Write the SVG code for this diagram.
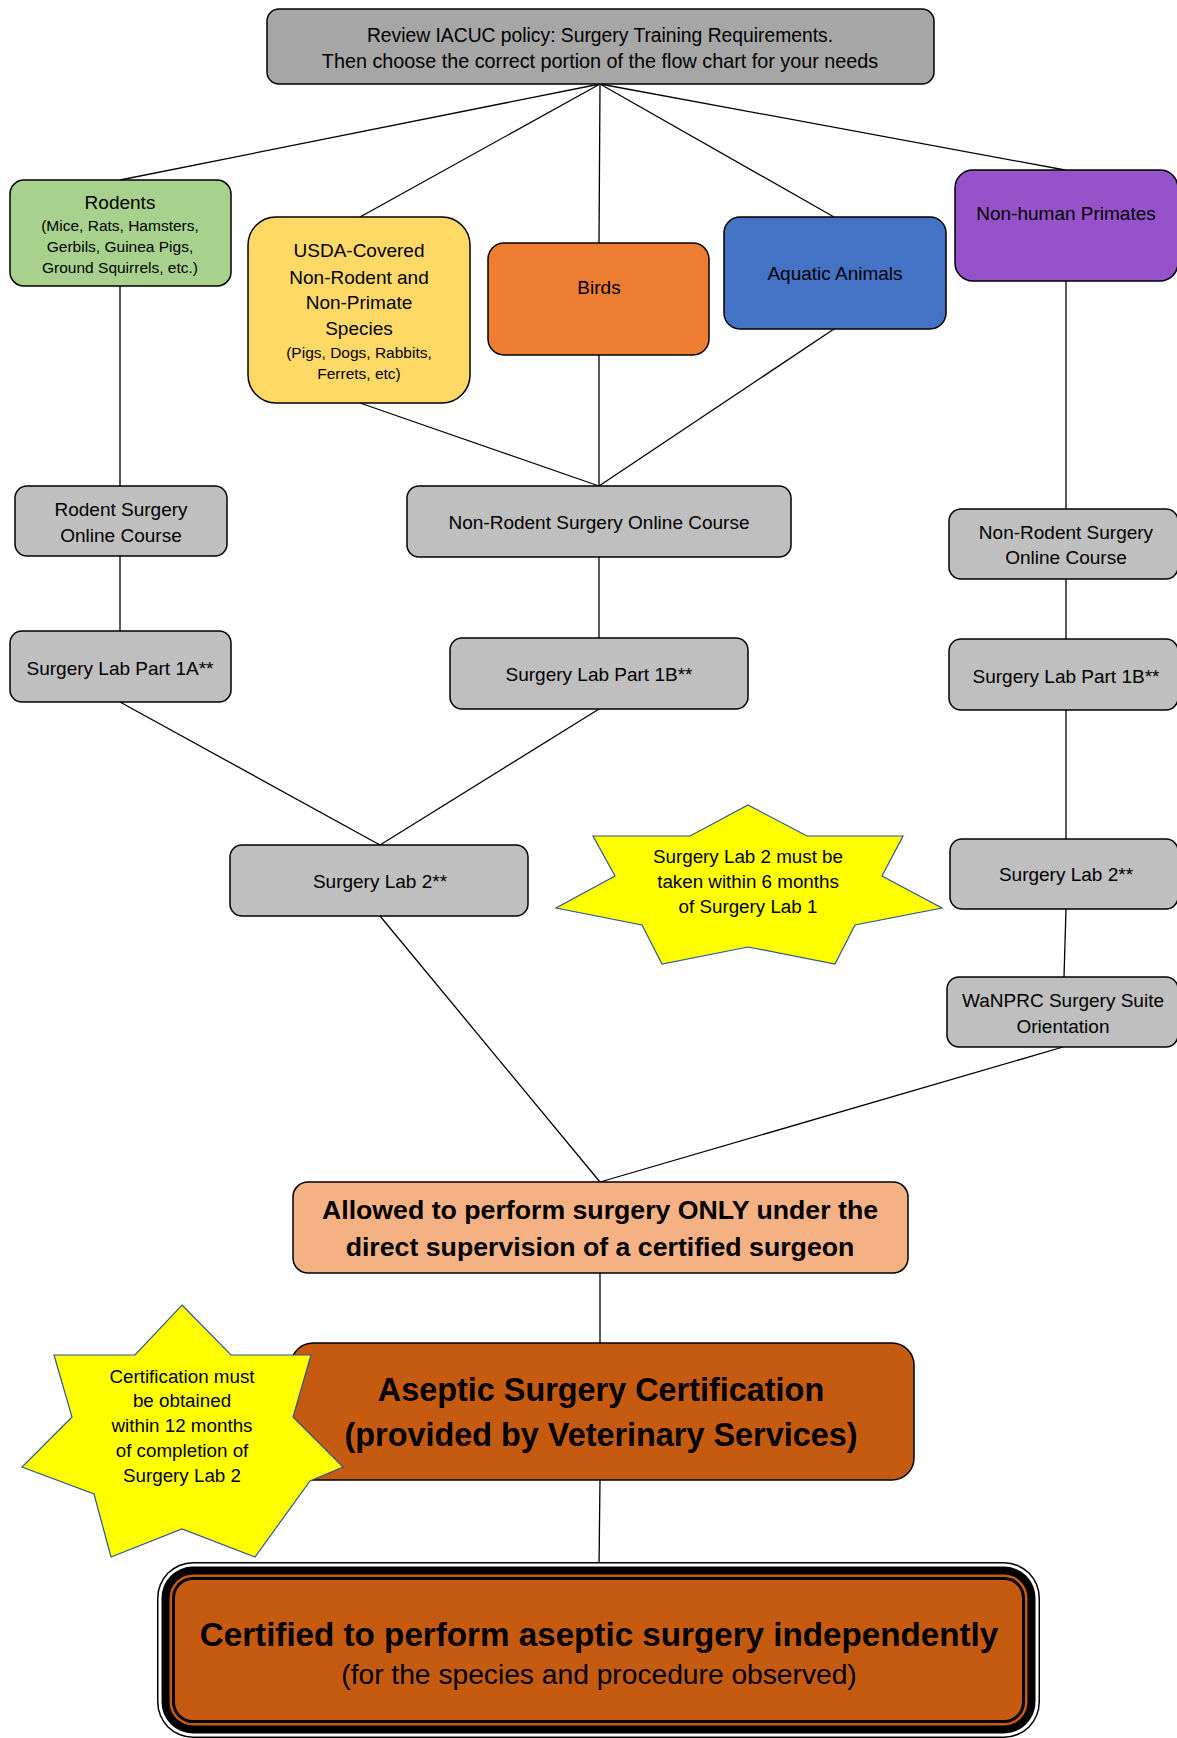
<svg xmlns="http://www.w3.org/2000/svg" width="1177" height="1738" viewBox="0 0 1177 1738">
<style>
.box{stroke:#000;stroke-width:1.5}
.gray{fill:#BFBFBF}
.t{font-family:"Liberation Sans",Arial,sans-serif;fill:#000;text-anchor:middle}
.f19{font-size:19px}
.f15{font-size:15.5px}
.f18{font-size:18.8px}
.b{font-weight:bold}
.star{fill:#FFFF00;stroke:#2F5597;stroke-width:1.2}
#connectors line{stroke:#000;stroke-width:1.3}
</style>
<rect width="1177" height="1738" fill="#fff"/>
<g id="connectors">
<line x1="600" y1="84" x2="120" y2="180"/>
<line x1="600" y1="84" x2="360" y2="217"/>
<line x1="600" y1="84" x2="599" y2="243"/>
<line x1="600" y1="84" x2="834" y2="217"/>
<line x1="600" y1="84" x2="1065" y2="170"/>
<line x1="120" y1="286" x2="120" y2="486"/>
<line x1="360" y1="403" x2="599" y2="486"/>
<line x1="599" y1="355" x2="599" y2="486"/>
<line x1="834" y1="329" x2="599" y2="486"/>
<line x1="1066" y1="281" x2="1066" y2="509"/>
<line x1="120" y1="556" x2="120" y2="631"/>
<line x1="599" y1="557" x2="599" y2="638"/>
<line x1="1066" y1="579" x2="1066" y2="639"/>
<line x1="120" y1="702" x2="380" y2="845"/>
<line x1="599" y1="709" x2="380" y2="845"/>
<line x1="1066" y1="710" x2="1066" y2="839"/>
<line x1="1066" y1="909" x2="1064" y2="977"/>
<line x1="380" y1="916" x2="600" y2="1182"/>
<line x1="1063" y1="1047" x2="600" y2="1182"/>
<line x1="600" y1="1273" x2="600" y2="1343"/>
<line x1="600" y1="1480" x2="599" y2="1568"/>
</g>

<g id="n-top">
<rect class="box" x="267" y="9" width="667" height="75" rx="12" fill="#A6A6A6"/>
<text class="t" x="600" y="42" font-size="19.3px">Review IACUC policy: Surgery Training Requirements.</text>
<text class="t" x="600" y="68" font-size="19.8px">Then choose the correct portion of the flow chart for your needs</text>
</g>

<g id="n-rodents">
<rect class="box" x="10" y="180" width="221" height="106" rx="14" fill="#A9D18E"/>
<text class="t f19" x="120" y="209">Rodents</text>
<text class="t f15" x="120" y="230.5">(Mice, Rats, Hamsters,</text>
<text class="t f15" x="120" y="251.5">Gerbils, Guinea Pigs,</text>
<text class="t f15" x="120" y="272.5">Ground Squirrels, etc.)</text>
</g>

<g id="n-usda">
<rect class="box" x="248" y="217" width="222" height="186" rx="28" fill="#FFD966"/>
<text class="t f19" x="359" y="257">USDA-Covered</text>
<text class="t f19" x="359" y="284">Non-Rodent and</text>
<text class="t f19" x="359" y="309">Non-Primate</text>
<text class="t f19" x="359" y="335">Species</text>
<text class="t f15" x="359" y="357.5">(Pigs, Dogs, Rabbits,</text>
<text class="t f15" x="359" y="378.5">Ferrets, etc)</text>
</g>

<g id="n-birds">
<rect class="box" x="488" y="243" width="221" height="112" rx="16" fill="#ED7D31"/>
<text class="t f19" x="599" y="294">Birds</text>
</g>

<g id="n-aquatic">
<rect class="box" x="724" y="217" width="222" height="112" rx="16" fill="#4472C4"/>
<text class="t f19" x="835" y="280">Aquatic Animals</text>
</g>

<g id="n-primates">
<rect class="box" x="955" y="170" width="223" height="111" rx="18" fill="#9652C9"/>
<text class="t f19" x="1066" y="220">Non-human Primates</text>
</g>

<g id="n-rodent-course">
<rect class="box gray" x="15" y="486" width="212" height="70" rx="12"/>
<text class="t f19" x="121" y="516">Rodent Surgery</text>
<text class="t f19" x="121" y="542">Online Course</text>
</g>

<g id="n-nonrodent-course">
<rect class="box gray" x="407" y="486" width="384" height="71" rx="12"/>
<text class="t f19" x="599" y="529">Non-Rodent Surgery Online Course</text>
</g>

<g id="n-nhp-course">
<rect class="box gray" x="949" y="509" width="229" height="70" rx="12"/>
<text class="t f19" x="1066" y="539">Non-Rodent Surgery</text>
<text class="t f19" x="1066" y="564">Online Course</text>
</g>

<g id="n-lab1a">
<rect class="box gray" x="10" y="631" width="221" height="71" rx="12"/>
<text class="t f19" x="120" y="675">Surgery Lab Part 1A**</text>
</g>

<g id="n-lab1b">
<rect class="box gray" x="450" y="638" width="298" height="71" rx="12"/>
<text class="t f19" x="599" y="681">Surgery Lab Part 1B**</text>
</g>

<g id="n-lab1b-nhp">
<rect class="box gray" x="949" y="639" width="229" height="71" rx="12"/>
<text class="t f19" x="1066" y="683">Surgery Lab Part 1B**</text>
</g>

<g id="n-lab2">
<rect class="box gray" x="230" y="845" width="298" height="71" rx="12"/>
<text class="t f19" x="380" y="888">Surgery Lab 2**</text>
</g>

<g id="n-star1">
<polygon class="star" points="748,805 807,836 903,836 882,876 942,908 855,925 835,964 748,947 662,964 642,925 556,908 615,876 593,836 690,836"/>
<text class="t f18" x="748" y="863">Surgery Lab 2 must be</text>
<text class="t f18" x="748" y="888">taken within 6 months</text>
<text class="t f18" x="748" y="913">of Surgery Lab 1</text>
</g>

<g id="n-lab2-nhp">
<rect class="box gray" x="950" y="839" width="228" height="70" rx="12"/>
<text class="t f19" x="1066" y="881">Surgery Lab 2**</text>
</g>

<g id="n-wanprc">
<rect class="box gray" x="947" y="977" width="231" height="70" rx="12"/>
<text class="t f19" x="1063" y="1007">WaNPRC Surgery Suite</text>
<text class="t f19" x="1063" y="1033">Orientation</text>
</g>

<g id="n-allowed">
<rect class="box" x="293" y="1182" width="615" height="91" rx="15" fill="#F4B183"/>
<text class="t b" x="600" y="1219" font-size="26.7px">Allowed to perform surgery ONLY under the</text>
<text class="t b" x="600" y="1256" font-size="26.7px">direct supervision of a certified surgeon</text>
</g>

<g id="n-aseptic">
<rect class="box" x="291" y="1343" width="623" height="137" rx="22" fill="#C55A11"/>
<text class="t b" x="601" y="1401" font-size="32.4px">Aseptic Surgery Certification</text>
<text class="t b" x="601" y="1446" font-size="32.4px">(provided by Veterinary Services)</text>
</g>

<g id="n-star2">
<polygon class="star" points="182,1305 231,1355 311,1355 293,1417 343,1467 310,1481 255,1557 182,1529 111,1557 94,1494 22,1467 72,1417 54,1355 135,1355"/>
<text class="t f18" x="182" y="1383">Certification must</text>
<text class="t f18" x="182" y="1407">be obtained</text>
<text class="t f18" x="182" y="1432">within 12 months</text>
<text class="t f18" x="182" y="1457">of completion of</text>
<text class="t f18" x="182" y="1482">Surgery Lab 2</text>
</g>

<g id="n-certified">
<rect x="157" y="1562" width="883" height="176" rx="36" fill="#000"/>
<rect x="158.5" y="1563.5" width="880" height="173" rx="34.5" fill="#fff"/>
<rect x="161.5" y="1566.5" width="874" height="167" rx="31.5" fill="#000"/>
<rect x="169.5" y="1574.5" width="858" height="151" rx="23.5" fill="#C55A11"/>
<rect x="172" y="1577" width="853" height="146" rx="21" fill="#000"/>
<rect x="175" y="1580" width="847" height="140" rx="18" fill="#C55A11"/>
<text class="t b" x="599" y="1646" font-size="33.2px">Certified to perform aseptic surgery independently</text>
<text class="t" x="599" y="1684" font-size="28.2px">(for the species and procedure observed)</text>
</g>
</svg>
